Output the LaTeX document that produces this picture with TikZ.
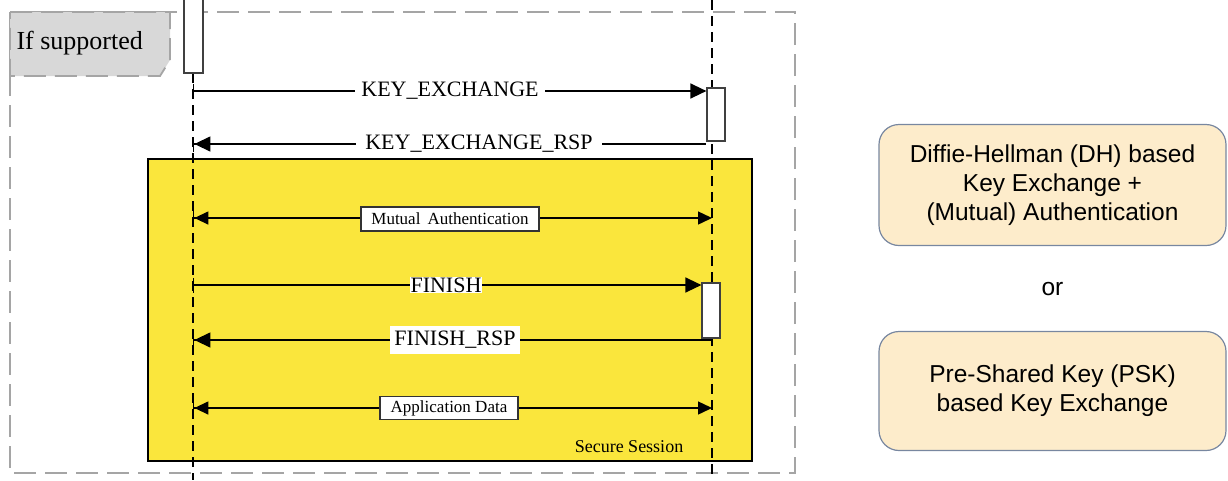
\documentclass[tikz,border=0pt]{standalone}
\usepackage{fontspec}
\setmainfont{Liberation Serif}
\newfontfamily\sansf{Liberation Sans}
\usetikzlibrary{arrows.meta}
\definecolor{sessyellow}{RGB}{250,230,60}
\definecolor{framegray}{RGB}{165,165,165}
\definecolor{tabgray}{RGB}{216,216,216}
\definecolor{cream}{RGB}{253,236,203}
\definecolor{creamborder}{RGB}{120,135,160}
\begin{document}
\begin{tikzpicture}[x=1pt,y=-1pt,
  lifeline/.style={dash pattern=on 10pt off 6pt, line width=1.8pt, black},
  actbox/.style={draw=black!75, fill=white, line width=1.2pt, minimum width=18pt, inner sep=0pt},
  req/.style={line width=1.4pt, {Bar[width=15pt,line width=1.4pt]}-{Triangle[length=16pt,width=15pt]}},
  rsp/.style={line width=1.4pt, {Bar[width=15pt,line width=1.4pt]Triangle[length=16pt,width=15pt]}-},
  both/.style={line width=1.4pt, {Bar[width=15pt,line width=1.4pt]Triangle[length=14pt,width=13pt]}-{Triangle[length=14pt,width=13pt]}},
  msglabel/.style={font=\fontsize{22}{24}\selectfont, fill=white, inner sep=1pt},
  boxlabel/.style={font=\fontsize{17}{19}\selectfont, fill=white, draw=black!80, line width=1.2pt, inner sep=0pt},
  optbox/.style={rounded corners=20pt, fill=cream, draw=creamborder, line width=1.2pt, minimum width=347pt, align=center, font=\sansf\fontsize{24.5}{29}\selectfont},
  frame/.style={draw=framegray, line width=1.8pt, dash pattern=on 22pt off 9pt}
]
\useasboundingbox (0,0) rectangle (1228,480);

% outer optional frame
\draw[frame] (10,12) rectangle (795,473);
% "If supported" tab
\draw[frame, fill=tabgray] (10,12) -- (170,12) -- (170,60) -- (160,76) -- (10,76) -- cycle;
\node[font=\fontsize{26}{28}\selectfont, anchor=west] (ifsup) at (13,43) {If supported};

% secure session
\node[draw=black, line width=2.8pt, fill=sessyellow, minimum width=604pt, minimum height=302pt, inner sep=0pt] (sess) at (450,310) {};
\node[font=\fontsize{18}{20}\selectfont] (sesslbl) at (629,447) {Secure Session};

% lifelines
\coordinate (Atop) at (193,73);
\coordinate (Abot) at (193,480);
\coordinate (Btop) at (712,0);
\coordinate (Bbot) at (712,480);
\draw[lifeline] (Atop) -- (Abot);
\draw[lifeline] (Btop) -- (Bbot);

% activation boxes
\node[actbox, minimum width=19pt, minimum height=76pt] (actA) at (193.5,35) {};
\node[actbox, minimum height=53pt] (actB1) at (716,114.5) {};
\node[actbox, minimum height=55pt] (actB2) at (711,310.5) {};

% KEY_EXCHANGE
\coordinate (a1) at (193,91);
\draw[req] (a1) -- (actB1.west |- a1);
\node[msglabel, minimum width=190pt] (ke) at (450,91) {KEY\_EXCHANGE};

% KEY_EXCHANGE_RSP
\coordinate (a2) at (193,144);
\draw[rsp] (a2) -- (actB1.south west |- a2);
\node[msglabel, minimum width=246pt] (kersp) at (479,144) {KEY\_EXCHANGE\_RSP\hspace{16pt}};

% Mutual Authentication
\coordinate (a3) at (193,218);
\coordinate (b3) at (712,218);
\draw[both] (a3) -- (b3);
\node[boxlabel, minimum width=178pt, minimum height=24pt] (mutual) at (450,219) {Mutual\, Authentication};

% FINISH
\coordinate (a4) at (193,285);
\draw[req] (a4) -- (actB2.west |- a4);
\node[msglabel, inner sep=0.5pt] (fin) at (446,285) {FINISH};

% FINISH_RSP
\coordinate (a5) at (193,340);
\coordinate (b5) at (712,340);
\draw[rsp] (a5) -- (b5);
\node[msglabel, minimum width=130pt, minimum height=28pt] (finrsp) at (455,340) {FINISH\_RSP\hspace{6pt}};

% Application Data
\coordinate (a6) at (193,408);
\coordinate (b6) at (712,408);
\draw[both] (a6) -- (b6);
\node[boxlabel, minimum width=138pt, minimum height=23pt] (appdata) at (449,408) {Application Data};

% right side options
\node[optbox, minimum height=121pt] (dh) at (1052.5,185) {Diffie-Hellman (DH) based\\Key Exchange +\\(Mutual) Authentication};
\node[font=\sansf\fontsize{24.5}{26}\selectfont] (or) at (1052.5,289) {or};
\node[optbox, minimum height=119pt] (psk) at (1052.5,391) {Pre-Shared Key (PSK)\\based Key Exchange};
\end{tikzpicture}
\end{document}
